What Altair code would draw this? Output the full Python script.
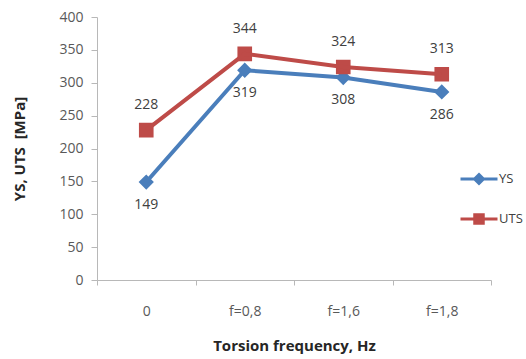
import altair as alt
import pandas as pd

# Torsion frequency categories and measured strengths (MPa)
categories = ["0", "f=0,8", "f=1,6", "f=1,8"]
ys_values = [149, 319, 308, 286]
uts_values = [228, 344, 324, 313]
series_names = ["YS", "UTS"]
series_colors = ["#4A7EBB", "#BE4B48"]
y_ticks = [0, 50, 100, 150, 200, 250, 300, 350, 400]

rows = []
for name, vals in zip(series_names, [ys_values, uts_values]):
    for cat, v in zip(categories, vals):
        rows.append({"freq": cat, "series": name, "value": v})
df = pd.DataFrame(rows)

# marker + short line segment; the open line segment only shows when stroked (legend)
diamond_path = "M-1,0H1M0,-0.24L0.24,0L0,0.24L-0.24,0Z"
square_path = "M-1,0H1M-0.23,-0.23H0.23V0.23H-0.23Z"

font = "Open Sans"

x_enc = alt.X(
    "freq:N",
    sort=categories,
    bandPosition=0.5,
    scale=alt.Scale(type="band", paddingInner=0, paddingOuter=0),
    axis=alt.Axis(
        title="Torsion frequency, Hz",
        labelAngle=0,
        tickBand="extent",
        tickSize=5,
        labelPadding=19,
        titlePadding=20,
        domainColor="#b8b8b8",
        tickColor="#b8b8b8",
    ),
)
y_enc = alt.Y(
    "value:Q",
    scale=alt.Scale(domain=[0, 400], nice=False),
    axis=alt.Axis(
        title="YS, UTS\u00a0 [MPa]",
        values=y_ticks,
        grid=False,
        tickSize=6,
        labelPadding=8,
        titlePadding=31,
        domainColor="#b8b8b8",
        tickColor="#b8b8b8",
    ),
)
color_scale = alt.Scale(domain=series_names, range=series_colors)

legend_spec = alt.Legend(
    title=None,
    orient="none",
    legendX=362,
    legendY=142,
    symbolSize=1369,
    symbolStrokeWidth=3,
    rowPadding=9,
    labelOffset=0,
    labelFontSize=13,
    labelColor="#404040",
    labelFont=font,
)

base = alt.Chart(df).encode(x=x_enc, y=y_enc)

points = base.mark_point(filled=True, strokeWidth=0, opacity=1, size=4050).encode(
    color=alt.Color("series:N", scale=color_scale, legend=legend_spec),
    stroke=alt.Stroke("series:N", scale=color_scale, legend=legend_spec),
    shape=alt.Shape(
        "series:N",
        scale=alt.Scale(domain=series_names, range=[diamond_path, square_path]),
        legend=legend_spec,
    ),
)

lines = base.mark_line(strokeWidth=4).encode(
    stroke=alt.Stroke("series:N", scale=color_scale, legend=legend_spec),
)

labels_uts = (
    base.transform_filter(alt.datum.series == "UTS")
    .mark_text(dy=-25, fontSize=14, font=font, color="#404040")
    .encode(text="value:Q")
)
labels_ys = (
    base.transform_filter(alt.datum.series == "YS")
    .mark_text(dy=23, fontSize=14, font=font, color="#404040")
    .encode(text="value:Q")
)

chart = (
    alt.layer(points, lines, labels_uts, labels_ys)
    .properties(
        width=394,
        height=263,
        autosize=alt.AutoSizeParams(type="none"),
        padding={"left": 97, "top": 17, "right": 35, "bottom": 79},
        background="white",
    )
    .configure_view(stroke=None)
    .configure_axis(
        labelFont=font,
        labelFontSize=14,
        labelColor="#595959",
        titleFont=font,
        titleFontSize=15,
        titleFontWeight="bold",
        titleColor="#262626",
    )
)

chart.save("out.html", embed_options={"renderer": "svg", "actions": False})
